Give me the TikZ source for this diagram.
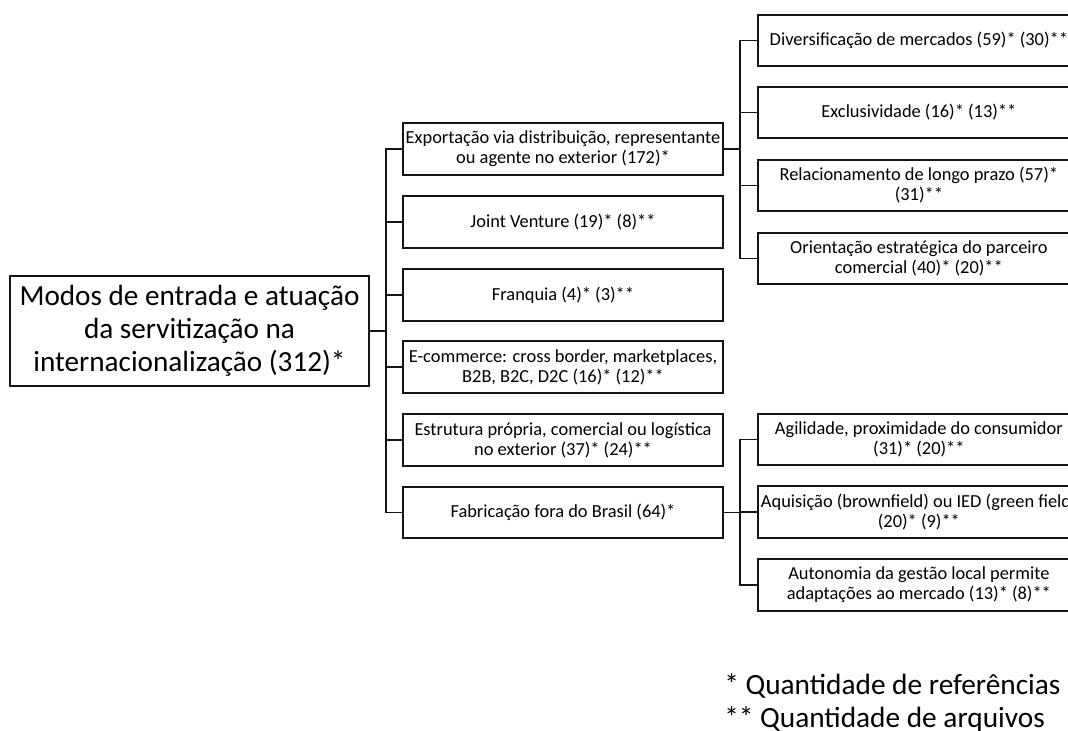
\documentclass[tikz,border=0pt]{standalone}
\usepackage{fontspec}
\setmainfont{Carlito}
\usepackage{tikz}
\usetikzlibrary{positioning}
\definecolor{svline}{RGB}{20,20,20}
\tikzset{
  svroot/.style={draw=svline, line width=1.3pt, align=center, inner sep=0pt,
    minimum width=269pt, minimum height=82.5pt, font=\fontsize{21.9}{24.75}\selectfont},
  svmode/.style={draw=svline, line width=1.3pt, align=center, inner sep=0pt,
    minimum width=240pt, minimum height=38.5pt, font=\fontsize{13.8}{15}\selectfont},
  svfactor/.style={svmode, anchor=west, minimum width=241.5pt},
  svnote/.style={anchor=base west, inner sep=0pt, font=\fontsize{22}{24}\selectfont},
  svlink/.style={draw=svline, line width=1.3pt}
}
\begin{document}
\begin{tikzpicture}[x=0.75pt, y=-0.75pt]
  \useasboundingbox (0,0) rectangle (1068,731);
  \clip (0,0) rectangle (1068,731);
  \node[svroot] (root) at (189.5,331) {Modos de entrada e atuação\\da servitização na\\internacionalização (312)*};
  % modos de entrada
  \node[svmode] (mA) at (563,149) {Exportação via distribuição, representante\\ou agente no exterior (172)*};
  \node[svmode] (mB) at (563,222) {Joint Venture (19)* (8)**};
  \node[svmode] (mC) at (563,295) {Franquia (4)* (3)**};
  \node[svmode] (mD) at (563,367) {E-commerce: cross border, marketplaces,\\B2B, B2C, D2C (16)* (12)**};
  \node[svmode] (mE) at (563,440) {Estrutura própria, comercial ou logística\\no exterior (37)* (24)**};
  \node[svmode] (mF) at (563,512.5) {Fabricação fora do Brasil (64)*};
  % fatores da exportacao
  \node[svfactor] (eA) at (757,40.5) {Diversificação de mercados (59)* (30)**};
  \node[svfactor] (eB) at (757,112.5) {Exclusividade (16)* (13)**};
  \node[svfactor] (eC) at (757,185.5) {Relacionamento de longo prazo (57)*\\(31)**};
  \node[svfactor] (eD) at (757,258.5) {Orientação estratégica do parceiro\\comercial (40)* (20)**};
  % fatores da fabricacao
  \node[svfactor] (fA) at (757,439.5) {Agilidade, proximidade do consumidor\\(31)* (20)**};
  \node[svfactor] (fB) at (757,512) {Aquisição (brownfield) ou IED (green field)\\(20)* (9)**};
  \node[svfactor] (fC) at (757,585) {Autonomia da gestão local permite\\adaptações ao mercado (13)* (8)**};
  % legenda
  \node[svnote] (legRef) at (724,694) {* Quantidade de referências};
  \node[svnote] (legArq) at (724,727) {** Quantidade de arquivos};
  % conectores
  \coordinate (tM) at (386,331);
  \coordinate (tE) at (740,149);
  \coordinate (tF) at (740,512.5);
  \foreach \m in {mA,mB,mC,mD,mE,mF}
    \draw[svlink] (root.east) -- (tM) |- (\m.west);
  \foreach \e in {eA,eB,eC,eD}
    \draw[svlink] (mA.east) -- (tE) |- (\e.west);
  \foreach \f in {fA,fB,fC}
    \draw[svlink] (mF.east) -- (tF) |- (\f.west);
\end{tikzpicture}
\end{document}
